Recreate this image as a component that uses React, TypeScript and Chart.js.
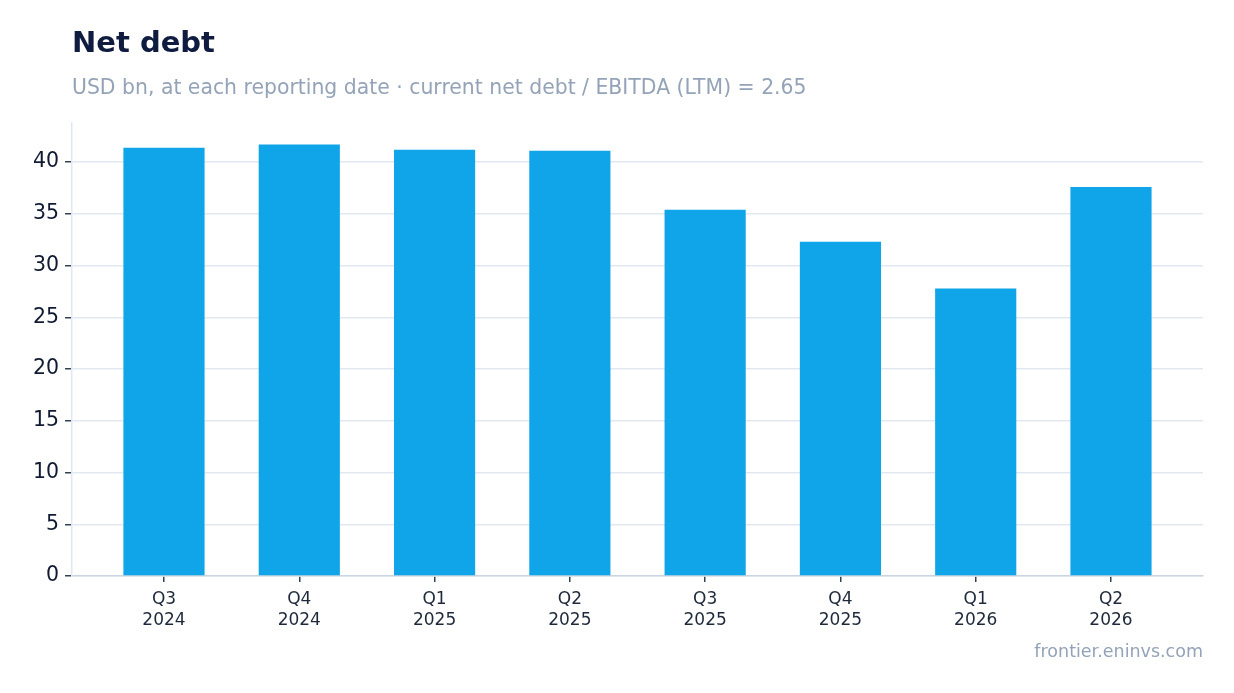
import React, { useEffect, useRef } from 'react';
import Chart from 'chart.js/auto';

const quarters = [
  ['Q3', '2024'],
  ['Q4', '2024'],
  ['Q1', '2025'],
  ['Q2', '2025'],
  ['Q3', '2025'],
  ['Q4', '2025'],
  ['Q1', '2026'],
  ['Q2', '2026'],
];
const netDebt = [41.4, 41.7, 41.2, 41.1, 35.4, 32.3, 27.8, 37.6];
const yTicks = [0, 5, 10, 15, 20, 25, 30, 35, 40];

const FONT = '"DejaVu Sans", sans-serif';

const App: React.FC = () => {
  const chartRef = useRef<HTMLCanvasElement>(null);

  useEffect(() => {
    if (!chartRef.current) return;

    // bars sit on a linear x axis so the side margins can be fractional
    const points = netDebt.map((v, i) => ({ x: i, y: v }));
    const margin = 0.3 + (quarters.length - 1 + 0.6) * 0.05;

    const chart = new Chart(chartRef.current, {
      type: 'bar',
      data: {
        datasets: [
          {
            label: 'Net debt',
            data: points,
            backgroundColor: '#10a5e8',
            categoryPercentage: 1,
            barPercentage: 0.6,
          },
        ],
      },
      options: {
        animation: false,
        responsive: false,
        maintainAspectRatio: false,
        layout: { padding: { top: 123, right: 31, bottom: 55, left: 0 } },
        plugins: {
          legend: { display: false },
          tooltip: { enabled: false },
        },
        scales: {
          x: {
            type: 'linear',
            offset: false,
            min: -margin,
            max: quarters.length - 1 + margin,
            afterBuildTicks: (scale: any) => {
              scale.ticks = quarters.map((_, i) => ({ value: i }));
            },
            grid: {
              offset: false,
              drawOnChartArea: false,
              tickColor: '#334155',
              tickLength: 6,
              lineWidth: 1.5,
            },
            border: { color: '#cbd5e1', width: 1.5 },
            ticks: {
              color: '#1e293b',
              font: { family: FONT, size: 17, lineHeight: 1.25 },
              padding: 7,
              maxRotation: 0,
              callback: (v: any) => quarters[Math.round(Number(v))] ?? '',
            },
            afterFit: (scale: any) => {
              scale.height = 62;
            },
          },
          y: {
            min: 0,
            max: Math.max(...netDebt) * 1.05,
            afterBuildTicks: (scale: any) => {
              scale.ticks = yTicks.map((v) => ({ value: v }));
            },
            grid: {
              color: '#e2e8f0',
              lineWidth: 1.5,
              tickColor: '#334155',
              tickLength: 7,
            },
            border: { color: '#e2e8f0', width: 1.5 },
            ticks: {
              color: '#111a33',
              font: { family: FONT, size: 20.5 },
              padding: 6,
            },
            afterFit: (scale: any) => {
              scale.width = 72;
            },
          },
        },
      },
    });

    return () => chart.destroy();
  }, []);

  return (
    <div
      style={{
        position: 'absolute',
        left: 0,
        top: 0,
        width: 1234,
        height: 693,
        background: '#ffffff',
        fontFamily: FONT,
      }}
    >
      <canvas ref={chartRef} width={1234} height={693} style={{ position: 'absolute', left: 0, top: 0 }} />
      <div
        style={{
          position: 'absolute',
          left: 72,
          top: 25,
          fontSize: 29,
          fontWeight: 'bold',
          color: '#0f1c3f',
        }}
      >
        Net debt
      </div>
      <div
        style={{
          position: 'absolute',
          left: 72,
          top: 75,
          fontSize: 20.4,
          color: '#94a3b8',
        }}
      >
        USD bn, at each reporting date · current net debt / EBITDA (LTM) = 2.65
      </div>
      <div
        style={{
          position: 'absolute',
          right: 31,
          top: 641,
          fontSize: 17.5,
          color: '#94a3b8',
        }}
      >
        frontier.eninvs.com
      </div>
    </div>
  );
};

export default App;
